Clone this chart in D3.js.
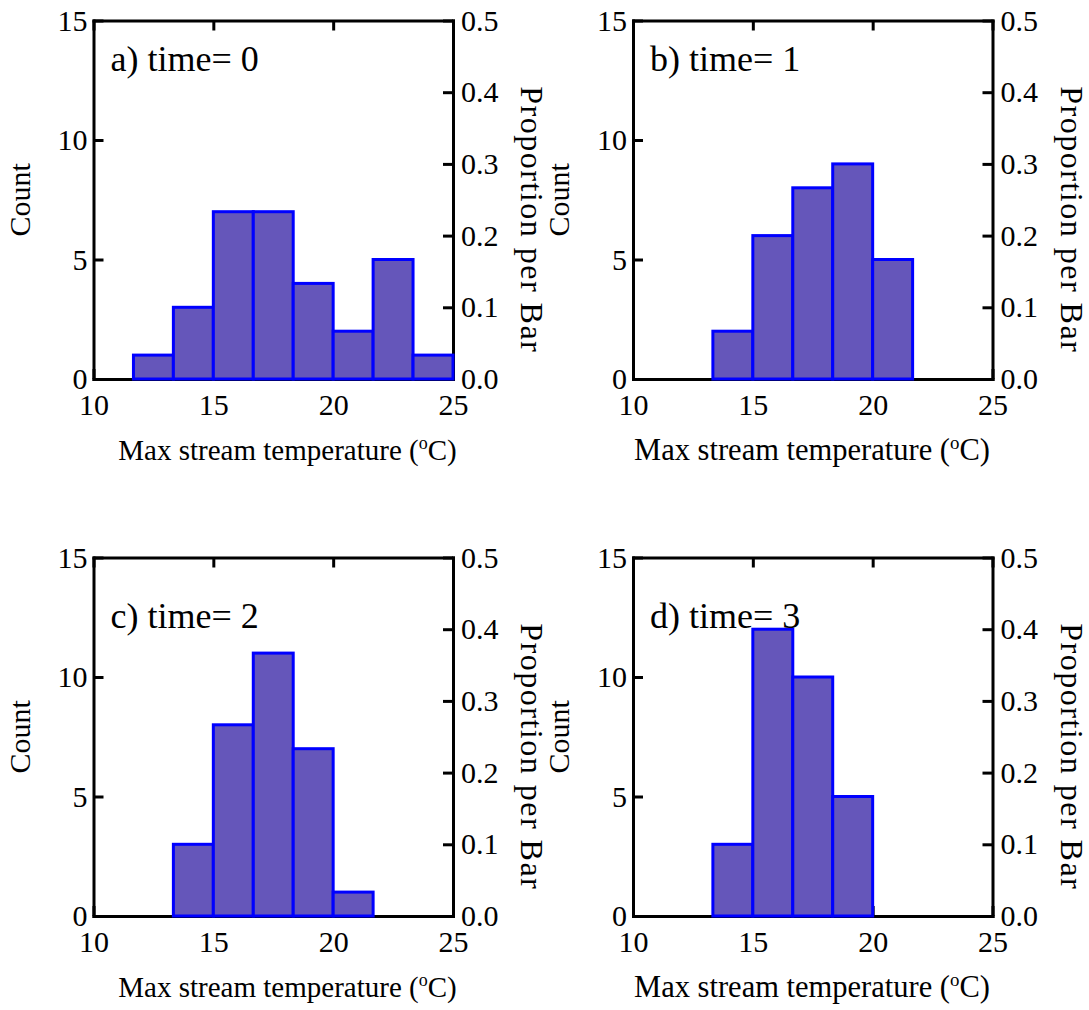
<!DOCTYPE html>
<html>
<head>
<meta charset="utf-8">
<script src="https://cdn.jsdelivr.net/npm/d3@7"></script>
<style>
  html, body { margin: 0; padding: 0; background: #fff; }
  svg { display: block; }
  text { font-family: "Liberation Serif", "Times New Roman", serif; fill: #000; }
</style>
</head>
<body>
<svg id="chart" width="1089" height="1010"></svg>
<script>
// ---- data ----
const binEdges = [10, 11.667, 13.333, 15, 16.667, 18.333, 20, 21.667, 23.333, 25];
const countsA = [0, 1, 3, 7, 7, 4, 2, 5, 1];
const countsB = [0, 0, 2, 6, 8, 9, 5, 0, 0];
const countsC = [0, 0, 3, 8, 11, 7, 1, 0, 0];
const countsD = [0, 0, 3, 12, 10, 5, 0, 0, 0];
const panelLabels = ["a) time= 0", "b) time= 1", "c) time= 2", "d) time= 3"];
const xTicks = [10, 15, 20, 25];
const countTicks = [0, 5, 10, 15];
const propTicks = [0.0, 0.1, 0.2, 0.3, 0.4, 0.5];
const totalN = 30;
const xTitle = "Max stream temperature (";
const yTitleLeft = "Count";
const yTitleRight = "Proportion per Bar";

// ---- layout ----
const plotW = 359.5, plotH = 358.5;
const layout = [
  { counts: countsA, left: 93.5, top: 20.5, labelDy: 50.5, xtDx: 194, xtFs: 29 },
  { counts: countsB, left: 633,  top: 20.5, labelDy: 50.5, xtDx: 179, xtFs: 30.5 },
  { counts: countsC, left: 93.5, top: 557.5, labelDy: 70.5, xtDx: 194, xtFs: 29 },
  { counts: countsD, left: 633,  top: 557.5, labelDy: 70.5, xtDx: 179, xtFs: 30.5 }
];

const svg = d3.select("#chart");
const fontSize = 30;

layout.forEach((p, i) => {
  const g = svg.append("g").attr("transform", `translate(${p.left},${p.top})`);
  const x = d3.scaleLinear().domain([10, 25]).range([0, plotW]);
  const y = d3.scaleLinear().domain([0, 15]).range([plotH, 0]);
  const y2 = d3.scaleLinear().domain([0, 15 / totalN]).range([plotH, 0]);

  const styleAxis = sel => {
    sel.selectAll("path.domain").attr("stroke", "#000").attr("stroke-width", 3).attr("stroke-linecap", "square");
    sel.selectAll(".tick line").attr("stroke", "#000").attr("stroke-width", 3);
    sel.selectAll(".tick text").style("font-size", fontSize + "px").style("font-family", '"Liberation Serif", serif').attr("fill", "#000");
  };

  g.append("g").call(d3.axisLeft(y).tickValues(countTicks).tickSize(-10).tickSizeOuter(0).tickPadding(6).tickFormat(d3.format("d"))).call(styleAxis);
  g.append("g").attr("transform", `translate(${plotW},0)`)
    .call(d3.axisRight(y2).tickValues(propTicks).tickSize(-10).tickSizeOuter(0).tickPadding(8).tickFormat(d3.format(".1f"))).call(styleAxis);
  g.append("g").attr("transform", `translate(0,${plotH})`)
    .call(d3.axisBottom(x).tickValues(xTicks).tickSize(-10).tickSizeOuter(0).tickPadding(15).tickFormat(d3.format("d"))).call(styleAxis);
  g.append("g")
    .call(d3.axisTop(x).tickValues(xTicks).tickSize(-10).tickSizeOuter(0).tickFormat("")).call(styleAxis);

  // bars
  const bins = p.counts.map((c, k) => ({ x0: binEdges[k], x1: binEdges[k + 1], c }));
  g.append("g").selectAll("rect").data(bins).join("rect")
    .attr("x", d => x(d.x0))
    .attr("y", d => y(d.c))
    .attr("width", d => x(d.x1) - x(d.x0))
    .attr("height", d => y(0) - y(d.c))
    .attr("fill", "#6556ba")
    .attr("stroke", "#0000ff")
    .attr("stroke-width", 3);

  // panel label
  g.append("text").attr("x", 17).attr("y", p.labelDy)
    .style("font-size", "36px").text(panelLabels[i]);

  // x title
  const xt = g.append("text").attr("x", p.xtDx).attr("y", plotH + 81)
    .attr("text-anchor", "middle").style("font-size", p.xtFs + "px");
  xt.append("tspan").text(xTitle);
  xt.append("tspan").attr("dy", -11).style("font-size", (p.xtFs * 0.62) + "px").text("o");
  xt.append("tspan").attr("dy", 11).text("C)");

  // left title
  g.append("text").attr("transform", `translate(-64,${plotH / 2}) rotate(-90)`)
    .attr("text-anchor", "middle").style("font-size", fontSize + "px").text(yTitleLeft);
  // right title
  g.append("text").attr("transform", `translate(${plotW + 68},${plotH / 2 + 20}) rotate(90)`)
    .attr("text-anchor", "middle").style("font-size", "32px").style("letter-spacing", "1.5px")
    .text(yTitleRight);
});
</script>
</body>
</html>
